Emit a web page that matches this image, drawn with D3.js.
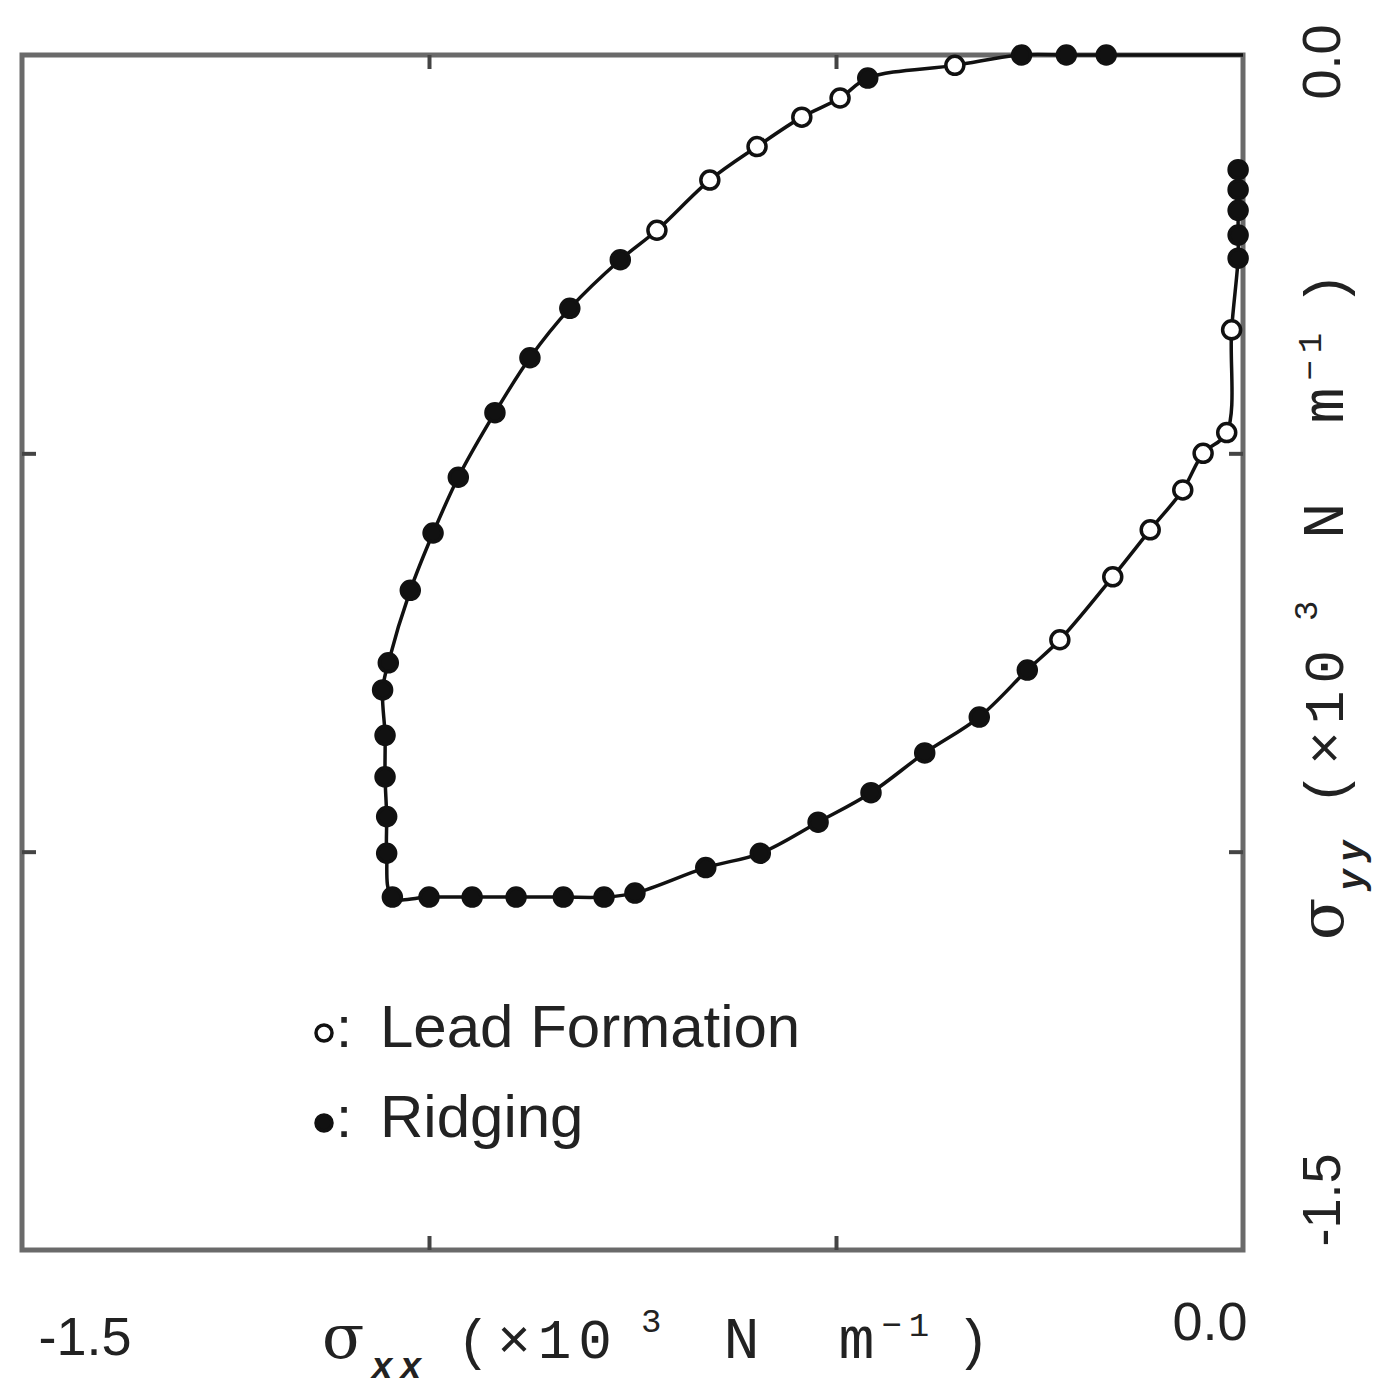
<!DOCTYPE html>
<html><head><meta charset="utf-8">
<script src="https://cdn.jsdelivr.net/npm/d3@7"></script>
<style>html,body{margin:0;padding:0;background:#fff}svg{display:block}</style>
</head><body>
<svg id="c" width="1400" height="1400"></svg>
<script>
// yield curve, in drawing order; mode: R = ridging (filled), L = lead formation (open), N = line vertex only
const pathSxx = [0.0, -0.168, -0.217, -0.272, -0.354, -0.461, -0.495, -0.542, -0.597, -0.655, -0.720,
  -0.765, -0.827, -0.876, -0.919, -0.964, -0.995, -1.023, -1.050, -1.057, -1.054, -1.054, -1.052, -1.052, -1.045,
  -1.000, -0.947, -0.893, -0.835, -0.785, -0.747, -0.660, -0.593, -0.522, -0.457, -0.391, -0.324, -0.265,
  -0.225, -0.160, -0.114, -0.074, -0.049, -0.020, -0.014,
  -0.006, -0.006, -0.006, -0.006, -0.006];
const pathSyy = [0.0, 0.0, 0.0, 0.0, -0.013, -0.029, -0.054, -0.078, -0.115, -0.157, -0.220,
  -0.257, -0.318, -0.380, -0.449, -0.530, -0.600, -0.672, -0.763, -0.797, -0.854, -0.906, -0.956, -1.002, -1.057,
  -1.057, -1.057, -1.057, -1.057, -1.057, -1.052, -1.020, -1.002, -0.963, -0.926, -0.876, -0.831, -0.772,
  -0.734, -0.655, -0.596, -0.546, -0.500, -0.474, -0.345,
  -0.255, -0.226, -0.195, -0.169, -0.144];
const pathMode = ['N','R','R','R','L','R','L','L','L','L','L',
  'R','R','R','R','R','R','R','R','R','R','R','R','R','R',
  'R','R','R','R','R','R','R','R','R','R','R','R','R',
  'L','L','L','L','L','L','L',
  'R','R','R','R','R'];
const xDomain = [-1.5, 0.0];
const yDomain = [-1.5, 0.0];
const innerTicks = [-1.0, -0.5];
const tickLabelsX = ['-1.5', '0.0'];
const tickLabelsY = ['0.0', '-1.5'];
const legendLabels = ['Lead Formation', 'Ridging'];

const svg = d3.select('#c');
const L = 22, R = 1243, T = 55, B = 1250;
const x = d3.scaleLinear().domain(xDomain).range([L, R]);
const y = d3.scaleLinear().domain(yDomain).range([B, T]);

// frame
svg.append('rect').attr('x', L).attr('y', T).attr('width', R - L).attr('height', B - T)
  .attr('fill', 'none').attr('stroke', '#6a6a6a').attr('stroke-width', 5);

// inward ticks on four sides
function styleAxis(g){ g.select('.domain').remove(); g.selectAll('line').attr('stroke','#444').attr('stroke-width',4); g.selectAll('text').remove(); }
svg.append('g').attr('transform', `translate(0,${B})`).call(d3.axisBottom(x).tickValues(innerTicks).tickSize(-14)).call(styleAxis);
svg.append('g').attr('transform', `translate(0,${T})`).call(d3.axisTop(x).tickValues(innerTicks).tickSize(-14)).call(styleAxis);
svg.append('g').attr('transform', `translate(${L},0)`).call(d3.axisLeft(y).tickValues(innerTicks).tickSize(-14)).call(styleAxis);
svg.append('g').attr('transform', `translate(${R},0)`).call(d3.axisRight(y).tickValues(innerTicks).tickSize(-14)).call(styleAxis);

const pts = pathSxx.map((v, i) => ({sx: v, sy: pathSyy[i], m: pathMode[i]}));

// curve
const line = d3.line().x(d => x(d.sx)).y(d => y(d.sy)).curve(d3.curveCatmullRom.alpha(0.5));
svg.append('path').datum(pts).attr('d', line).attr('fill', 'none').attr('stroke', '#111').attr('stroke-width', 3.5);

// markers
svg.append('g').selectAll('circle').data(pts.filter(d => d.m !== 'N')).join('circle')
  .attr('cx', d => x(d.sx)).attr('cy', d => y(d.sy)).attr('r', 9)
  .attr('fill', d => d.m === 'R' ? '#111' : '#fff')
  .attr('stroke', '#111').attr('stroke-width', 3.5);

const font = "'Liberation Sans', Arial, sans-serif";
// x tick labels
svg.append('text').attr('x', x(xDomain[0]) + 63).attr('y', 1355).attr('text-anchor', 'middle')
  .attr('font-family', font).attr('font-size', 54).attr('fill', '#222').text(tickLabelsX[0]);
svg.append('text').attr('x', x(xDomain[1]) - 33).attr('y', 1340).attr('text-anchor', 'middle')
  .attr('font-family', font).attr('font-size', 54).attr('fill', '#222').text(tickLabelsX[1]);
// y tick labels (rotated)
svg.append('text').attr('transform', `translate(1340,${y(yDomain[1]) + 7}) rotate(-90)`).attr('text-anchor', 'middle')
  .attr('font-family', font).attr('font-size', 54).attr('fill', '#222').text(tickLabelsY[0]);
svg.append('text').attr('transform', `translate(1340,${y(yDomain[0]) - 50}) rotate(-90)`).attr('text-anchor', 'middle')
  .attr('font-family', font).attr('font-size', 54).attr('fill', '#222').text(tickLabelsY[1]);

// axis titles
function axisTitle(g, sub){
  const t = g.append('text').attr('text-anchor', 'start').attr('fill', '#222')
    .attr('font-family', "'Liberation Mono', 'DejaVu Sans Mono', monospace").attr('font-size', 56)
    .attr('letter-spacing', 7);
  t.append('tspan').attr('font-family', "'DejaVu Serif', serif").attr('font-size', 62).text('σ');
  t.append('tspan').attr('font-size', 36).attr('font-weight', 'bold').attr('font-style', 'italic').attr('dy', 20).text(sub);
  t.append('tspan').attr('dy', -20).attr('dx', 28).text('(×10');
  t.append('tspan').attr('font-size', 34).attr('dy', -26).attr('dx', 22).text('3');
  t.append('tspan').attr('dy', 26).attr('dx', 55).attr('font-size', 60).text('N');
  t.append('tspan').attr('dx', 72).attr('font-size', 60).text('m');
  t.append('tspan').attr('font-size', 34).attr('dy', -22).text('−1');
  t.append('tspan').attr('dy', 22).attr('dx', 20).text(')');
}
axisTitle(svg.append('g').attr('transform', 'translate(322,1358)'), 'xx');
axisTitle(svg.append('g').attr('transform', 'translate(1343,940) rotate(-90)'), 'yy');

// legend
const legY = [1025, 1115];
const legMode = ['L', 'R'];
legendLabels.forEach((lab, i) => {
  svg.append('circle').attr('cx', 324).attr('cy', legY[i] + 8).attr('r', 8)
    .attr('fill', legMode[i] === 'R' ? '#111' : '#fff').attr('stroke', '#111').attr('stroke-width', 3.5);
  svg.append('text').attr('x', 336).attr('y', legY[i] + 22).attr('font-family', font)
    .attr('font-size', 58).attr('fill', '#222').text(':');
  svg.append('text').attr('x', 380).attr('y', legY[i] + 22).attr('font-family', font)
    .attr('font-size', 60).attr('fill', '#222').text(lab);
});
</script>
</body></html>
